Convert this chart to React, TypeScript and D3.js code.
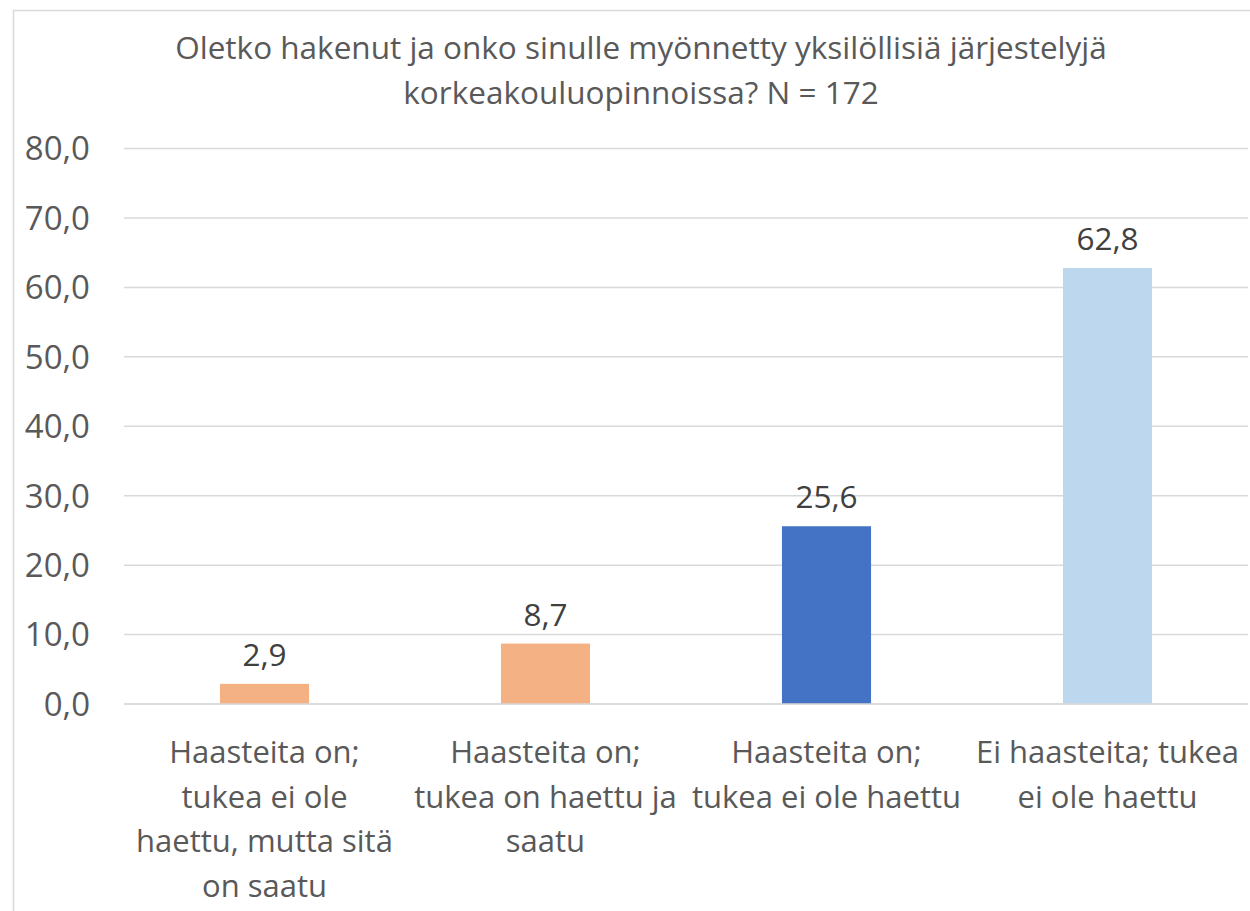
import { useEffect, useRef } from "react"
import * as d3 from "d3"

// chart data
const categories = ["c1", "c2", "c3", "c4"]
const categoryLines = [
  ["Haasteita on;", "tukea ei ole", "haettu, mutta sitä", "on saatu"],
  ["Haasteita on;", "tukea on haettu ja", "saatu"],
  ["Haasteita on;", "tukea ei ole haettu"],
  ["Ei haasteita; tukea", "ei ole haettu"],
]
const values = [2.9, 8.7, 25.6, 62.8]
const barColors = ["#F4B183", "#F4B183", "#4472C4", "#BDD7EE"]
const yTicks = [0, 10, 20, 30, 40, 50, 60, 70, 80]
const titleLines = [
  "Oletko hakenut ja onko sinulle myönnetty yksilöllisiä järjestelyjä",
  "korkeakouluopinnoissa? N = 172",
]

const FONT = "'Open Sans', 'Noto Sans', sans-serif"

export default function App() {
  const svgRef = useRef<SVGSVGElement>(null)

  useEffect(() => {
    document.body.style.margin = "0"
    if (!svgRef.current) return

    const svg = d3.select(svgRef.current)
    svg.selectAll("*").remove()

    const width = 1250
    const height = 911
    const plot = { left: 124, right: 1248, top: 148.5, bottom: 704 }

    svg.attr("width", width).attr("height", height)

    svg
      .append("rect")
      .attr("width", width)
      .attr("height", height)
      .attr("fill", "#ffffff")

    // chart border
    svg
      .append("rect")
      .attr("x", 13.5)
      .attr("y", 10.5)
      .attr("width", 1260)
      .attr("height", 920)
      .attr("fill", "none")
      .attr("stroke", "#D9D9D9")
      .attr("stroke-width", 1.5)

    const x = d3
      .scaleBand<string>()
      .domain(categories)
      .range([plot.left, plot.right])
      .paddingInner(0.683)
      .paddingOuter(0.3415)

    const y = d3.scaleLinear().domain([0, 80]).range([plot.bottom, plot.top])

    const fmt = (v: number) => d3.format(".1f")(v).replace(".", ",")

    // title
    svg
      .append("g")
      .selectAll("text")
      .data(titleLines)
      .enter()
      .append("text")
      .attr("x", 641)
      .attr("y", (_d, i) => 59 + i * 45)
      .attr("text-anchor", "middle")
      .attr("fill", "#595959")
      .style("font-family", FONT)
      .style("font-size", "31.5px")
      .text((d) => d)

    // gridlines
    svg
      .append("g")
      .selectAll("line")
      .data(yTicks)
      .enter()
      .append("line")
      .attr("x1", plot.left)
      .attr("x2", plot.right)
      .attr("y1", (d) => y(d))
      .attr("y2", (d) => y(d))
      .attr("stroke", "#D9D9D9")
      .attr("stroke-width", 1.5)

    // y tick labels
    svg
      .append("g")
      .selectAll("text")
      .data(yTicks)
      .enter()
      .append("text")
      .attr("x", 90)
      .attr("y", (d) => y(d))
      .attr("dy", "0.36em")
      .attr("text-anchor", "end")
      .attr("fill", "#595959")
      .style("font-family", FONT)
      .style("font-size", "33px")
      .text((d) => fmt(d))

    // bars
    svg
      .append("g")
      .selectAll("rect")
      .data(values)
      .enter()
      .append("rect")
      .attr("x", (_d, i) => x(categories[i])!)
      .attr("y", (d) => y(d))
      .attr("width", x.bandwidth())
      .attr("height", (d) => y(0) - y(d))
      .attr("fill", (_d, i) => barColors[i])

    // redraw baseline over bars
    svg
      .append("line")
      .attr("x1", plot.left)
      .attr("x2", plot.right)
      .attr("y1", y(0))
      .attr("y2", y(0))
      .attr("stroke", "#D9D9D9")
      .attr("stroke-width", 1.5)

    // data labels
    svg
      .append("g")
      .selectAll("text")
      .data(values)
      .enter()
      .append("text")
      .attr("x", (_d, i) => x(categories[i])! + x.bandwidth() / 2)
      .attr("y", (d) => y(d) - 18)
      .attr("text-anchor", "middle")
      .attr("fill", "#404040")
      .style("font-family", FONT)
      .style("font-size", "31.5px")
      .text((d) => fmt(d))

    // category labels
    const cat = svg
      .append("g")
      .selectAll("text")
      .data(categoryLines)
      .enter()
      .append("text")
      .attr("text-anchor", "middle")
      .attr("fill", "#595959")
      .style("font-family", FONT)
      .style("font-size", "31px")

    cat
      .selectAll("tspan")
      .data((d, i) => d.map((line) => ({ line, i })))
      .enter()
      .append("tspan")
      .attr("x", (d) => x(categories[d.i])! + x.bandwidth() / 2)
      .attr("y", (_d, j) => 763 + j * 44.7)
      .text((d) => d.line)
  }, [])

  return (
    <div>
      <svg ref={svgRef}></svg>
    </div>
  )
}
